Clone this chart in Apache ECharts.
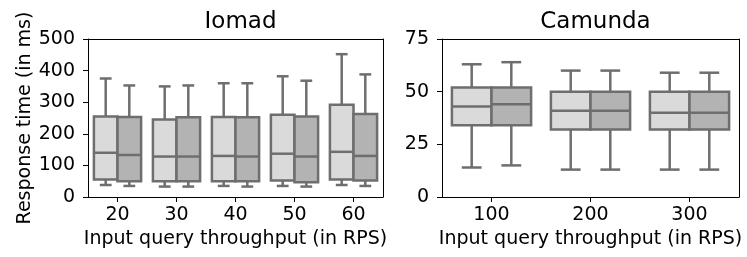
<!DOCTYPE html>
<html>
<head>
<meta charset="utf-8">
<script src="https://cdn.jsdelivr.net/npm/echarts@6/dist/echarts.min.js"></script>
<style>html,body{margin:0;padding:0;background:#fff}#c{width:747px;height:257px}</style>
</head>
<body>
<div id="c"></div>
<script>
// Categories
const iomadCats = ['20', '30', '40', '50', '60'];
const camundaCats = ['100', '200', '300'];
// Five-number summaries [min, q1, median, q3, max]
const iomadLight = [
  [38, 55, 140, 255, 375],
  [33, 50, 128, 245, 350],
  [35, 50, 130, 253, 360],
  [35, 52, 137, 260, 382],
  [38, 55, 143, 292, 452]
];
const iomadDark = [
  [35, 50, 133, 253, 353],
  [33, 50, 128, 252, 353],
  [33, 50, 128, 252, 360],
  [33, 47, 128, 255, 368],
  [35, 52, 130, 263, 388]
];
const camundaLight = [
  [14, 34, 43, 52, 63],
  [13, 32, 41, 50, 60],
  [13, 32, 40, 50, 59]
];
const camundaDark = [
  [15, 34, 44, 52, 64],
  [13, 32, 41, 50, 60],
  [13, 32, 40, 50, 59]
];
const iomadTicks = [0, 100, 200, 300, 400, 500];
const camundaTicks = [0, 25, 50, 75];

const FONT = 'DejaVu Sans';
const STROKE = '#6e6e6e';
const LIGHT = '#dadada';
const DARK = '#b3b3b3';
const LW = 2.5;

function toData(arr) { return arr.map((v, i) => [i].concat(v)); }

function makeRender(side, fill) {
  return function (params, api) {
    const cat = api.value(0);
    const pMin = api.coord([cat, api.value(1)]);
    const yQ1 = api.coord([cat, api.value(2)])[1];
    const yMed = api.coord([cat, api.value(3)])[1];
    const yQ3 = api.coord([cat, api.value(4)])[1];
    const yMax = api.coord([cat, api.value(5)])[1];
    const yMin = pMin[1];
    const x = pMin[0];
    const band = api.size([1, 0])[0];
    const w = band * 0.4;
    const x0 = side < 0 ? x - w : x;
    const cx = x0 + w / 2;
    const ch = w / 4;
    const ls = { stroke: STROKE, lineWidth: LW, fill: null };
    return {
      type: 'group',
      children: [
        { type: 'line', shape: { x1: cx, y1: yMin, x2: cx, y2: yQ1 }, style: ls },
        { type: 'line', shape: { x1: cx, y1: yQ3, x2: cx, y2: yMax }, style: ls },
        { type: 'line', shape: { x1: cx - ch, y1: yMin, x2: cx + ch, y2: yMin }, style: ls },
        { type: 'line', shape: { x1: cx - ch, y1: yMax, x2: cx + ch, y2: yMax }, style: ls },
        { type: 'rect', shape: { x: x0, y: yQ3, width: w, height: yQ1 - yQ3 }, style: { fill: fill, stroke: STROKE, lineWidth: LW } },
        { type: 'line', shape: { x1: x0, y1: yMed, x2: x0 + w, y2: yMed }, style: ls }
      ]
    };
  };
}

function yAx(idx, ticks, name) {
  return {
    gridIndex: idx, type: 'value',
    min: ticks[0], max: ticks[ticks.length - 1], interval: ticks[1] - ticks[0],
    name: name, nameLocation: 'middle', nameGap: 52,
    nameTextStyle: { fontFamily: FONT, fontSize: 19, color: '#000' },
    axisLine: { show: true, onZero: false, lineStyle: { color: '#000', width: 1 } },
    axisTick: { show: true, length: 5, lineStyle: { color: '#000', width: 1 } },
    axisLabel: { fontFamily: FONT, fontSize: 19, color: '#000', margin: 13 },
    splitLine: { show: false }
  };
}
function yFrame(idx, ticks) {
  return {
    gridIndex: idx, type: 'value', position: 'right',
    min: ticks[0], max: ticks[ticks.length - 1], interval: ticks[1] - ticks[0],
    axisLine: { show: true, onZero: false, lineStyle: { color: '#000', width: 1 } },
    axisTick: { show: false }, axisLabel: { show: false }, splitLine: { show: false }
  };
}
function xAx(idx, cats) {
  return {
    gridIndex: idx, type: 'category', data: cats, boundaryGap: true,
    name: 'Input query throughput (in RPS)', nameLocation: 'middle', nameGap: 33,
    nameTextStyle: { fontFamily: FONT, fontSize: 19, color: '#000' },
    axisLine: { show: true, onZero: false, lineStyle: { color: '#000', width: 1 } },
    axisTick: { show: true, alignWithLabel: true, length: 5, lineStyle: { color: '#000', width: 1 } },
    axisLabel: { fontFamily: FONT, fontSize: 19, color: '#000', margin: 9 },
    splitLine: { show: false }
  };
}
function xFrame(idx, cats) {
  return {
    gridIndex: idx, type: 'category', data: cats, position: 'top',
    axisLine: { show: true, onZero: false, lineStyle: { color: '#000', width: 1 } },
    axisTick: { show: false }, axisLabel: { show: false }, splitLine: { show: false }
  };
}

const chart = echarts.init(document.getElementById('c'), null, { renderer: 'canvas' });
chart.setOption({
  animation: false,
  backgroundColor: '#fff',
  title: [
    { text: 'Iomad', left: 235.5, top: 6, textAlign: 'center', textStyle: { fontFamily: FONT, fontSize: 23, fontWeight: 'normal', color: '#000' } },
    { text: 'Camunda', left: 590.5, top: 6, textAlign: 'center', textStyle: { fontFamily: FONT, fontSize: 23, fontWeight: 'normal', color: '#000' } }
  ],
  grid: [
    { left: 88, right: 364, top: 39, bottom: 60 },
    { left: 442, right: 8, top: 39, bottom: 60 }
  ],
  xAxis: [xAx(0, iomadCats), xAx(1, camundaCats), xFrame(0, iomadCats), xFrame(1, camundaCats)],
  yAxis: [yAx(0, iomadTicks, 'Response time (in ms)'), yAx(1, camundaTicks, ''), yFrame(0, iomadTicks), yFrame(1, camundaTicks)],
  series: [
    { type: 'custom', xAxisIndex: 0, yAxisIndex: 0, renderItem: makeRender(-1, LIGHT), data: toData(iomadLight), encode: { x: 0, y: [1, 2, 3, 4, 5] } },
    { type: 'custom', xAxisIndex: 0, yAxisIndex: 0, renderItem: makeRender(1, DARK), data: toData(iomadDark), encode: { x: 0, y: [1, 2, 3, 4, 5] } },
    { type: 'custom', xAxisIndex: 1, yAxisIndex: 1, renderItem: makeRender(-1, LIGHT), data: toData(camundaLight), encode: { x: 0, y: [1, 2, 3, 4, 5] } },
    { type: 'custom', xAxisIndex: 1, yAxisIndex: 1, renderItem: makeRender(1, DARK), data: toData(camundaDark), encode: { x: 0, y: [1, 2, 3, 4, 5] } }
  ]
});
</script>
</body>
</html>
